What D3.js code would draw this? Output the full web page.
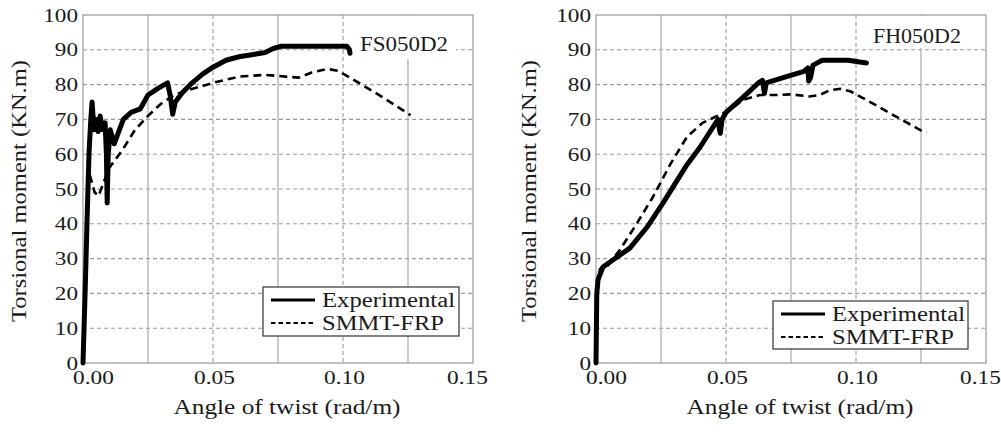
<!DOCTYPE html>
<html>
<head>
<meta charset="utf-8">
<script src="https://cdn.jsdelivr.net/npm/d3@7"></script>
<style>
  html, body { margin: 0; padding: 0; background: #fff; }
  svg { display: block; }
  text { font-family: "Liberation Serif", "DejaVu Serif", serif; fill: #1a1a1a; }
</style>
</head>
<body>
<svg id="chart" width="1001" height="432"></svg>
<script>
// ---------- data ----------
const xTickValues = [0, 0.05, 0.10, 0.15];
const xMinorValues = [0.025, 0.075, 0.125];
const yTickValues = [0, 10, 20, 30, 40, 50, 60, 70, 80, 90, 100];
const seriesNames = ["Experimental", "SMMT-FRP"];
const panelTitles = ["FS050D2", "FH050D2"];
const xAxisTitle = "Angle of twist (rad/m)";
const yAxisTitle = "Torsional moment (KN.m)";

// FS050D2 – experimental [angle, moment]
const fsExperimental = [
  [0,0],[0.0008,20],[0.0016,42],[0.0023,60],[0.003,70],[0.0035,75],[0.0042,67],
  [0.005,70],[0.0058,66.5],[0.0066,71],[0.0075,67],[0.0085,69],[0.009,60],
  [0.0093,46],[0.0097,60],[0.0105,67],[0.012,63],[0.014,67],[0.0155,70],
  [0.0185,72],[0.022,73],[0.025,77],[0.029,79],[0.0325,80.5],[0.0335,77],
  [0.0345,71.5],[0.0355,75],[0.038,77.5],[0.042,80.5],[0.046,83],[0.05,85],
  [0.055,87],[0.06,88],[0.066,88.7],[0.07,89.2],[0.073,90.3],[0.076,91],
  [0.09,91],[0.1015,91],[0.1025,90],[0.1027,89]
];
// FS050D2 – SMMT-FRP
const fsSmmt = [
  [0,0],[0.001,30],[0.0018,50],[0.0022,55],[0.003,53],[0.0045,49],[0.006,48],
  [0.008,52],[0.01,56],[0.012,58],[0.015,61],[0.02,67],[0.025,71],[0.03,74.5],
  [0.035,77],[0.04,78.3],[0.05,80.5],[0.06,82.3],[0.07,82.8],[0.078,82.3],
  [0.083,82],[0.088,83.5],[0.094,84.5],[0.098,84],[0.102,82.3],[0.115,76.5],
  [0.126,71.2]
];
// FH050D2 – experimental
const fhExperimental = [
  [0,0],[0.0003,20],[0.0008,24],[0.0027,27.6],[0.0065,29.6],[0.013,33],
  [0.0196,39],[0.0258,46],[0.035,57],[0.04,62],[0.0465,69.5],[0.047,70],
  [0.0475,67],[0.0478,66],[0.0485,70],[0.05,72],[0.056,76],[0.0625,80.5],
  [0.064,81.2],[0.0648,77.5],[0.0655,80.5],[0.072,82],[0.08,83.8],
  [0.0815,84.8],[0.0818,81],[0.0825,82],[0.0835,85.6],[0.087,87],[0.097,87],
  [0.104,86.2]
];
// FH050D2 – SMMT-FRP
const fhSmmt = [
  [0,0],[0.0005,20],[0.0015,27],[0.003,28],[0.004,27.5],[0.0092,32.5],
  [0.0158,40.2],[0.0219,47.7],[0.0285,57],[0.035,65],[0.041,69],[0.0458,70.7],
  [0.0515,72.7],[0.0565,75.6],[0.063,77],[0.07,77],[0.075,77.2],[0.082,76.6],
  [0.086,77],[0.09,78.4],[0.094,78.8],[0.098,78],[0.104,75.6],[0.113,71.8],
  [0.127,66]
];

// ---------- layout ----------
const svg = d3.select("#chart");
const panels = [
  { left: 83, right: 473, top: 15, bottom: 363, title: panelTitles[0],
    exp: fsExperimental, smmt: fsSmmt,
    titleBox: {x0: 351, x1: 456, y0: 16, y1: 59}, titleX: 404, titleY: 51,
    legend: {x: 263, y: 287, w: 196, h: 49} , yTitleX: 20},
  { left: 596, right: 986, top: 15, bottom: 363, title: panelTitles[1],
    exp: fhExperimental, smmt: fhSmmt,
    titleBox: {x0: 866, x1: 972, y0: 16, y1: 48}, titleX: 917, titleY: 43,
    legend: {x: 773, y: 301, w: 195, h: 48}, yTitleX: 530 }
];

const gridColor = "#9a9a9a";
const FS = 19;
const FT = 20;
// width of stretched label text (digits wider than the font draws them)
const labelLen = s => s.split("").reduce((a, c) => a + (c === "." ? 6 : 11.6), 0);

panels.forEach(p => {
  const x = d3.scaleLinear().domain([0, 0.15]).range([p.left, p.right]);
  const y = d3.scaleLinear().domain([0, 100]).range([p.bottom, p.top]);
  const g = svg.append("g");

  // horizontal dashed grid
  g.append("g").selectAll("line").data(yTickValues.filter(v => v > 0 && v < 100))
    .join("line")
    .attr("x1", p.left).attr("x2", p.right)
    .attr("y1", d => y(d)).attr("y2", d => y(d))
    .attr("stroke", gridColor).attr("stroke-width", 1.1)
    .attr("stroke-dasharray", "4,3");
  // vertical dashed (major) grid
  g.append("g").selectAll("line").data(xTickValues.filter(v => v > 0 && v < 0.15))
    .join("line")
    .attr("x1", d => x(d)).attr("x2", d => x(d))
    .attr("y1", p.top).attr("y2", p.bottom)
    .attr("stroke", gridColor).attr("stroke-width", 1.1)
    .attr("stroke-dasharray", "4,3");
  // vertical solid (minor) grid
  g.append("g").selectAll("line").data(xMinorValues)
    .join("line")
    .attr("x1", d => x(d)).attr("x2", d => x(d))
    .attr("y1", p.top).attr("y2", p.bottom)
    .attr("stroke", "#b0b0b0").attr("stroke-width", 1.3);

  // title with white background
  g.append("rect")
    .attr("x", p.titleBox.x0).attr("y", p.titleBox.y0)
    .attr("width", p.titleBox.x1 - p.titleBox.x0)
    .attr("height", p.titleBox.y1 - p.titleBox.y0)
    .attr("fill", "#fff");
  g.append("text")
    .attr("x", p.titleX).attr("y", p.titleY)
    .attr("text-anchor", "middle")
    .attr("font-size", FT)
    .attr("textLength", 88).attr("lengthAdjust", "spacingAndGlyphs")
    .text(p.title);

  // frame
  g.append("rect")
    .attr("x", p.left).attr("y", p.top)
    .attr("width", p.right - p.left).attr("height", p.bottom - p.top)
    .attr("fill", "none").attr("stroke", "#a0a0a0").attr("stroke-width", 1.3);

  // axes (labels only)
  const fmtX = d3.format(".2f");
  const xAxis = d3.axisBottom(x).tickValues(xTickValues).tickSize(0).tickPadding(8)
    .tickFormat(fmtX);
  const xg = g.append("g").attr("transform", `translate(0,${p.bottom})`).call(xAxis);
  xg.select(".domain").remove();
  xg.selectAll("text").attr("font-family", "Liberation Serif").attr("font-size", FS)
    .attr("fill", "#1a1a1a")
    .attr("textLength", d => labelLen(fmtX(d))).attr("lengthAdjust", "spacingAndGlyphs")
    .attr("dx", (d, i) => i === 0 ? 10 : (i === xTickValues.length - 1 ? -6 : 1));

  const fmtY = d3.format("d");
  const yAxis = d3.axisLeft(y).tickValues(yTickValues).tickSize(0).tickPadding(5)
    .tickFormat(fmtY);
  const yg = g.append("g").attr("transform", `translate(${p.left},0)`).call(yAxis);
  yg.select(".domain").remove();
  yg.selectAll("text").attr("font-family", "Liberation Serif").attr("font-size", FS)
    .attr("fill", "#1a1a1a")
    .attr("textLength", d => labelLen(fmtY(d))).attr("lengthAdjust", "spacingAndGlyphs");

  // axis titles
  g.append("text")
    .attr("x", (p.left + p.right) / 2 + 9).attr("y", 414)
    .attr("text-anchor", "middle").attr("font-size", FT)
    .attr("textLength", 227).attr("lengthAdjust", "spacingAndGlyphs")
    .text(xAxisTitle);
  g.append("text")
    .attr("transform", `translate(${p.yTitleX + 6},${191}) rotate(-90)`)
    .attr("text-anchor", "middle").attr("font-size", FT)
    .attr("textLength", 262).attr("lengthAdjust", "spacingAndGlyphs")
    .text(yAxisTitle);

  // lines
  const line = d3.line().x(d => x(d[0])).y(d => y(d[1]));
  g.append("path").datum(p.smmt).attr("d", line)
    .attr("fill", "none").attr("stroke", "#000").attr("stroke-width", 2.6)
    .attr("stroke-dasharray", "8,5");
  g.append("path").datum(p.exp).attr("d", line)
    .attr("fill", "none").attr("stroke", "#000").attr("stroke-width", 5)
    .attr("stroke-linejoin", "round").attr("stroke-linecap", "round");

  // legend
  const L = p.legend;
  const lg = g.append("g");
  lg.append("rect").attr("x", L.x).attr("y", L.y).attr("width", L.w).attr("height", L.h)
    .attr("fill", "#fff").attr("stroke", "#333").attr("stroke-width", 1.2);
  const rows = [
    { name: seriesNames[0], dash: null, w: 3, len: 133 },
    { name: seriesNames[1], dash: "4.5,3", w: 2, len: 122 }
  ];
  rows.forEach((r, i) => {
    const cy = L.y + 13 + i * 23;
    lg.append("line").attr("x1", L.x + 8).attr("x2", L.x + 52)
      .attr("y1", cy).attr("y2", cy)
      .attr("stroke", "#000").attr("stroke-width", r.w)
      .attr("stroke-dasharray", r.dash);
    lg.append("text").attr("x", L.x + 59).attr("y", cy + 6.5)
      .attr("font-size", FT)
      .attr("textLength", r.len).attr("lengthAdjust", "spacingAndGlyphs")
      .text(r.name);
  });
});
</script>
</body>
</html>
